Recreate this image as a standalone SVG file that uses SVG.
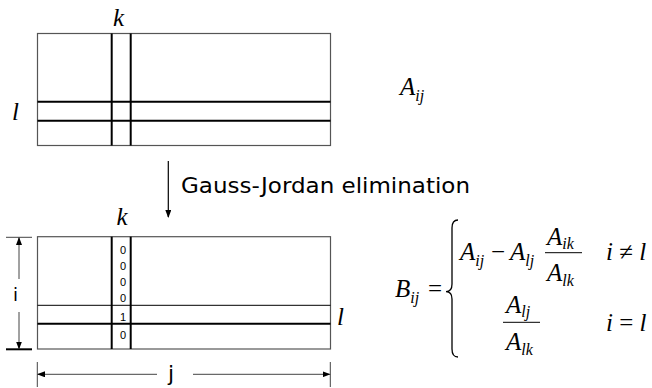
<svg xmlns="http://www.w3.org/2000/svg" width="652" height="388" viewBox="0 0 652 388">
<style>
.box{fill:none;stroke:#555;stroke-width:1.2}
.thick{stroke:#000;stroke-width:2}
.thin{stroke:#000;stroke-width:1}
.dim{stroke:#444;stroke-width:1;fill:none}
.m{font-family:"Liberation Serif",serif;font-style:italic;font-size:25px;fill:#000}
.sub{font-size:16px}
.r{font-family:"Liberation Serif",serif;font-style:normal}
.s{font-family:"Comic Sans MS","DejaVu Sans",sans-serif;fill:#000}
.d{font-family:"Liberation Sans",sans-serif;font-size:11px;fill:#000;text-anchor:middle}
.bar{stroke:#000;stroke-width:1}
</style>
<defs>
<marker id="ah" markerWidth="8" markerHeight="6" refX="7" refY="3" orient="auto" markerUnits="userSpaceOnUse">
<path d="M0,0 L8,3 L0,6 z" fill="#000"/>
</marker>
</defs>

<g id="matrixA">
<rect class="box" x="37.5" y="33.5" width="293" height="112"/>
<line class="thick" x1="111.7" y1="33.5" x2="111.7" y2="145.5"/>
<line class="thick" x1="130.7" y1="33.5" x2="130.7" y2="145.5"/>
<line class="thick" x1="37.5" y1="101.7" x2="330.5" y2="101.7"/>
<line class="thick" x1="37.5" y1="120.7" x2="330.5" y2="120.7"/>
<text class="m" x="113" y="25.5" font-size="24">k</text>
<text class="m" x="12" y="119.5">l</text>
</g>

<g id="labelA">
<text class="m" x="400" y="95">A<tspan class="sub" dy="6">ij</tspan></text>
</g>

<g id="matrixB">
<rect class="box" x="37.5" y="236.7" width="293" height="112.3"/>
<line class="thick" x1="111.7" y1="236.7" x2="111.7" y2="349"/>
<line class="thick" x1="130.7" y1="236.7" x2="130.7" y2="349"/>
<line class="thin" x1="37.5" y1="305.3" x2="330.5" y2="305.3"/>
<line class="thick" x1="37.5" y1="323.7" x2="330.5" y2="323.7"/>
<text class="d" x="123" y="254">0</text>
<text class="d" x="123" y="270">0</text>
<text class="d" x="123" y="286">0</text>
<text class="d" x="123" y="302">0</text>
<text class="d" x="123" y="321">1</text>
<text class="d" x="123" y="339">0</text>
<text class="m" x="116.5" y="225" font-size="24">k</text>
<text class="m" x="337" y="325">l</text>
</g>

<g id="formula">
<text class="m" x="395" y="297">B<tspan class="sub" dy="6">ij</tspan></text>
<text class="m r" x="428" y="297">=</text>
<path d="M458,220 Q452,220 452,228 L452,284 Q452,291.7 446,291.7 Q452,291.7 452,299 L452,349 Q452,357 458,357" fill="none" stroke="#000" stroke-width="1.3"/>
<text class="m" x="460" y="260">A<tspan class="sub" dy="6">ij</tspan></text>
<text class="m r" x="491" y="260">−</text>
<text class="m" x="510" y="260">A<tspan class="sub" dy="6">lj</tspan></text>
<line class="bar" x1="545" y1="252.7" x2="582" y2="252.7"/>
<text class="m" x="547" y="245">A<tspan class="sub" dy="4">ik</tspan></text>
<text class="m" x="547" y="281">A<tspan class="sub" dy="5">lk</tspan></text>
<text class="m" x="606" y="260">i <tspan class="r">≠</tspan> l</text>
<line class="bar" x1="503" y1="322.3" x2="540" y2="322.3"/>
<text class="m" x="506" y="313">A<tspan class="sub" dy="4">lj</tspan></text>
<text class="m" x="506" y="350">A<tspan class="sub" dy="5">lk</tspan></text>
<text class="m" x="606" y="331">i <tspan class="r">=</tspan> l</text>
</g>

<g id="step">
<text class="s" x="181" y="193" font-size="22" textLength="289" lengthAdjust="spacingAndGlyphs">Gauss-Jordan elimination</text>
</g>

<g id="connectors">
<line x1="168.3" y1="161" x2="168.3" y2="217" stroke="#000" stroke-width="1.2" marker-end="url(#ah)"/>
<line class="dim" x1="6" y1="237.3" x2="32" y2="237.3"/>
<line x1="6" y1="349.3" x2="32" y2="349.3" stroke="#000" stroke-width="2"/>
<line class="dim" x1="19" y1="279" x2="19" y2="238" marker-end="url(#ah)"/>
<line class="dim" x1="19" y1="312" x2="19" y2="348.5" marker-end="url(#ah)"/>
<text class="s" x="13" y="301" font-size="18">i</text>
<line class="dim" x1="37.3" y1="362" x2="37.3" y2="387"/>
<line class="dim" x1="330.3" y1="362" x2="330.3" y2="387"/>
<line class="dim" x1="157" y1="374.3" x2="38" y2="374.3" marker-end="url(#ah)"/>
<line class="dim" x1="193" y1="374.3" x2="329.5" y2="374.3" marker-end="url(#ah)"/>
<text class="s" x="168" y="381" font-size="22">j</text>
</g>
</svg>
